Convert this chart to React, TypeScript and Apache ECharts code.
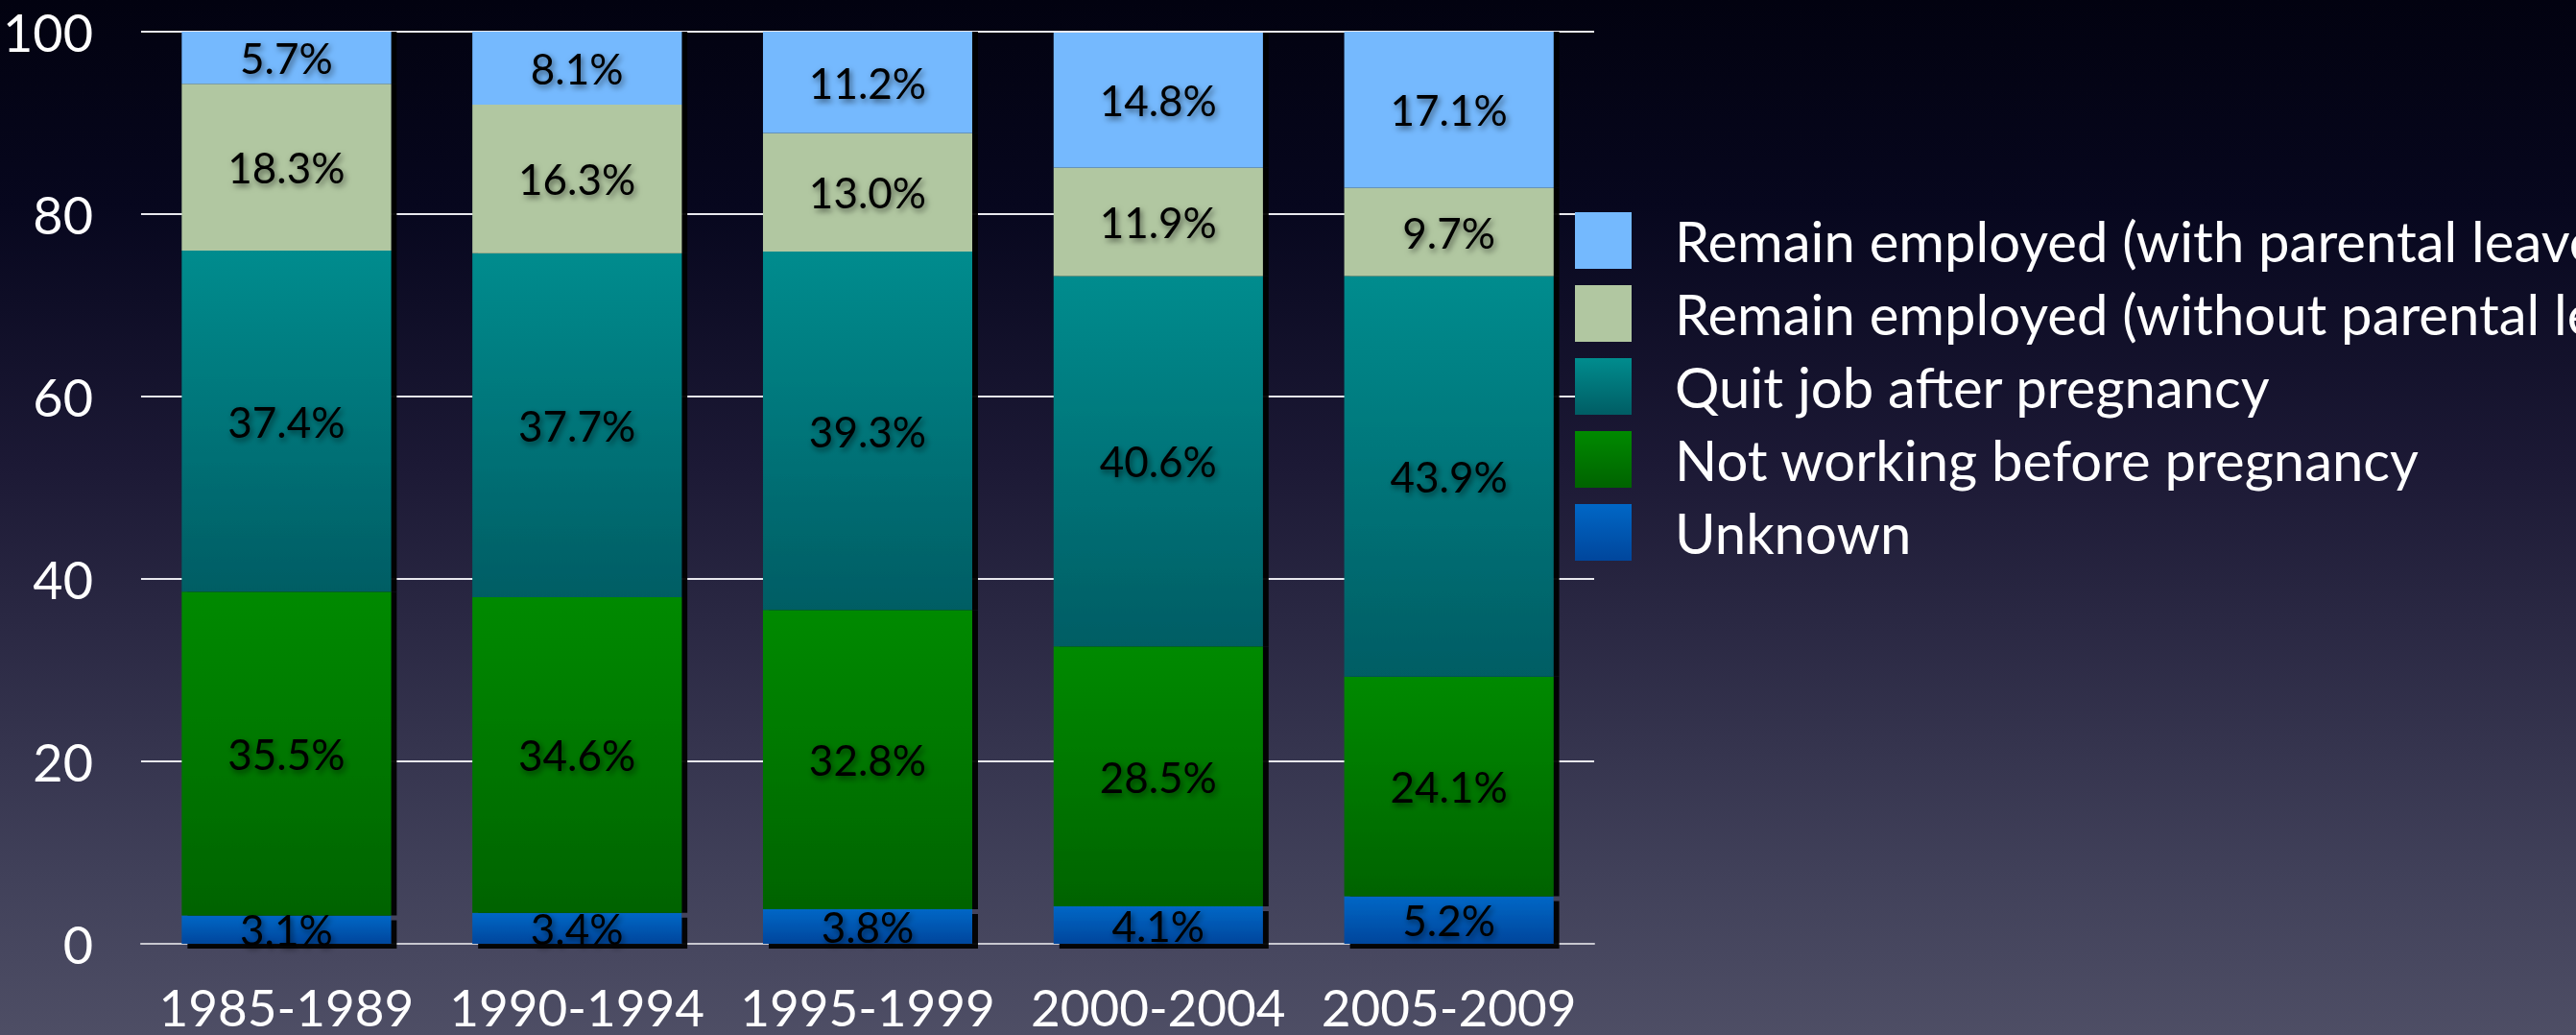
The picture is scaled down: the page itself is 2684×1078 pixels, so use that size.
import React, { useEffect, useRef } from "react";
import * as echarts from "echarts";

const categories = ["1985-1989", "1990-1994", "1995-1999", "2000-2004", "2005-2009"];
const unknown = [3.1, 3.4, 3.8, 4.1, 5.2];
const notWorking = [35.5, 34.6, 32.8, 28.5, 24.1];
const quitJob = [37.4, 37.7, 39.3, 40.6, 43.9];
const remainWithout = [18.3, 16.3, 13.0, 11.9, 9.7];
const remainWith = [5.7, 8.1, 11.2, 14.8, 17.1];
const yTicks = [0, 20, 40, 60, 80, 100];

const names = {
  unknown: "Unknown",
  notWorking: "Not working before pregnancy",
  quitJob: "Quit job after pregnancy",
  remainWithout: "Remain employed (without parental leave)",
  remainWith: "Remain employed (with parental leave)",
};

const FONT = "Lato, 'Noto Sans', sans-serif";

function grad(top: string, bottom: string) {
  return new echarts.graphic.LinearGradient(0, 0, 0, 1, [
    { offset: 0, color: top },
    { offset: 1, color: bottom },
  ]);
}

export default function App() {
  const ref = useRef<HTMLDivElement>(null);
  useEffect(() => {
    if (!ref.current) return;
    const chart = echarts.init(ref.current, undefined, { renderer: "svg" });
    const label = {
      show: true,
      position: "inside",
      color: "#000",
      fontFamily: FONT,
      fontSize: 44,
      formatter: (p: any) => Number(p.value).toFixed(1) + "%",
      textShadowColor: "rgba(0,0,0,0.55)",
      textShadowBlur: 6,
      textShadowOffsetX: 2,
      textShadowOffsetY: 3,
    };
    const mk = (name: string, data: number[], color: any, bottom = false) => ({
      name,
      type: "bar",
      stack: "total",
      data,
      barWidth: "72%",
      label,
      itemStyle: {
        color,
        shadowColor: "rgba(0,0,0,0.95)",
        shadowBlur: 1,
        shadowOffsetX: 6,
        shadowOffsetY: bottom ? 5 : 0,
      },
      emphasis: { disabled: true },
    });
    chart.setOption({
      animation: false,
      backgroundColor: new echarts.graphic.LinearGradient(0, 0, 0, 1, [
        { offset: 0, color: "#020210" },
        { offset: 0.2, color: "#07071E" },
        { offset: 0.45, color: "#1C1935" },
        { offset: 0.6, color: "#2A2843" },
        { offset: 0.85, color: "#41415A" },
        { offset: 1, color: "#4E4E65" },
      ]),
      grid: { left: 146, right: 1023, top: 33, bottom: 95, containLabel: false },
      legend: {
        orient: "vertical",
        left: 1636,
        top: 216,
        itemWidth: 59,
        itemHeight: 59,
        itemGap: 17,
        icon: "rect",
        selectedMode: false,
        data: [names.remainWith, names.remainWithout, names.quitJob, names.notWorking, names.unknown],
        textStyle: {
          color: "#ffffff",
          fontFamily: FONT,
          fontSize: 58,
          lineHeight: 59,
          padding: [0, 0, 0, 40],
        },
      },
      xAxis: {
        type: "category",
        data: categories,
        axisTick: { show: false },
        axisLine: { show: true, lineStyle: { color: "#C8C8D0", width: 2 } },
        axisLabel: {
          color: "#ffffff",
          fontFamily: FONT,
          fontSize: 53,
          lineHeight: 46,
          margin: 42,
          interval: 0,
          hideOverlap: false,
        },
      },
      yAxis: {
        type: "value",
        min: yTicks[0],
        max: yTicks[yTicks.length - 1],
        interval: 20,
        axisLine: { show: false },
        axisTick: { show: false },
        axisLabel: { color: "#ffffff", fontFamily: FONT, fontSize: 54, margin: 50 },
        splitLine: { show: true, lineStyle: { color: "#E8E8EE", width: 2 } },
      },
      series: [
        mk(names.unknown, unknown, grad("#0067C6", "#00469C"), true),
        mk(names.notWorking, notWorking, grad("#008A00", "#006300")),
        mk(names.quitJob, quitJob, grad("#008C8E", "#005D64")),
        mk(names.remainWithout, remainWithout, "#B1C7A1"),
        mk(names.remainWith, remainWith, "#74B9FE"),
      ],
    });
    return () => chart.dispose();
  }, []);
  return (
    <div
      ref={ref}
      style={{ position: "fixed", left: 0, top: 0, width: 2684, height: 1078 }}
    />
  );
}
